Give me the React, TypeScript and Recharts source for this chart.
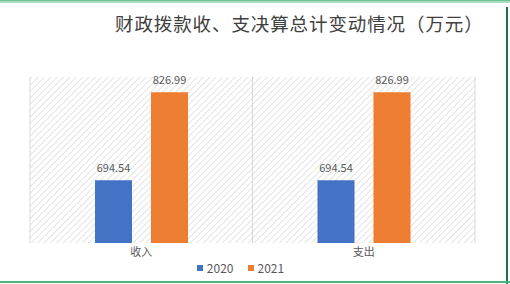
import { Bar, BarChart, CartesianGrid, LabelList, Legend, XAxis, YAxis } from "recharts";

const categories = ["收入", "支出"];
const values2020 = [694.54, 694.54];
const values2021 = [826.99, 826.99];
const yDomain = [600, 850];

const data = categories.map((name, i) => ({
  name,
  y2020: values2020[i],
  y2021: values2021[i],
}));

const BLUE = "#4472c4";
const ORANGE = "#ed7d31";
const TEXT = "#595959";
const FONT = '"Noto Sans CJK SC", "Noto Sans", sans-serif';

function LegendContent({ payload }: any) {
  return (
    <div
      style={{
        height: 16,
        lineHeight: "16px",
        display: "flex",
        justifyContent: "center",
        gap: 14,
        paddingRight: 24,
        fontSize: 12,
        color: TEXT,
        fontFamily: FONT,
      }}
    >
      {(payload || []).map((p: any) => (
        <span key={p.value} style={{ display: "flex", alignItems: "center", gap: 4 }}>
          <span style={{ width: 6, height: 6, background: p.color, display: "inline-block" }} />
          {p.value}
        </span>
      ))}
    </div>
  );
}

export default function App() {
  return (
    <div
      style={{
        position: "fixed",
        left: 0,
        top: 0,
        width: 510,
        height: 284,
        background: "#fff",
        fontFamily: FONT,
        overflow: "hidden",
      }}
    >
      {/* spreadsheet frame */}
      <div style={{ position: "absolute", left: 0, top: 0, width: 510, height: 3, background: "#a8dcbf" }} />
      <div style={{ position: "absolute", left: 0, top: 0, width: 510, height: 1, background: "#6cc394" }} />
      <div style={{ position: "absolute", left: 506, top: 7, width: 2, height: 277, background: "#217346" }} />
      <div style={{ position: "absolute", left: 0, top: 281, width: 510, height: 2, background: "#4cb77c" }} />

      <div
        style={{
          position: "absolute",
          left: 115,
          top: 10,
          fontSize: 18.5,
          color: "#404040",
          whiteSpace: "nowrap",
          letterSpacing: 0.9,
        }}
      >
        财政拨款收、支决算总计变动情况（万元）
      </div>

      <BarChart
        width={510}
        height={284}
        data={data}
        margin={{ top: 77, right: 35, bottom: 8, left: 30 }}
        barSize={37}
        barGap={19}
        style={{ position: "absolute", left: 0, top: 0 }}
      >
        <defs>
          <pattern id="hatch" patternUnits="userSpaceOnUse" width="4.5" height="4.5" patternTransform="rotate(45)">
            <rect width="4.5" height="4.5" fill="#ffffff" />
            <line x1="0" y1="0" x2="0" y2="4.5" stroke="#d9d9d9" strokeWidth="1.4" />
          </pattern>
        </defs>
        <CartesianGrid
          horizontal={false}
          fill="url(#hatch)"
          stroke="#d9d9d9"
          verticalCoordinatesGenerator={({ offset }: any) => [
            offset.left,
            offset.left + offset.width / 2,
            offset.left + offset.width,
          ]}
        />
        <XAxis
          dataKey="name"
          height={17}
          axisLine={false}
          tickLine={false}
          tickSize={0}
          tickMargin={5}
          tick={{ fill: TEXT, fontSize: 11, fontFamily: FONT }}
        />
        <YAxis hide domain={yDomain} allowDataOverflow />
        <Legend verticalAlign="bottom" align="center" content={<LegendContent />} />
        <Bar dataKey="y2020" name="2020" fill={BLUE} isAnimationActive={false}>
          <LabelList dataKey="y2020" position="top" offset={8} fill={TEXT} fontSize={11} fontFamily={FONT} />
        </Bar>
        <Bar dataKey="y2021" name="2021" fill={ORANGE} isAnimationActive={false}>
          <LabelList dataKey="y2021" position="top" offset={8} fill={TEXT} fontSize={11} fontFamily={FONT} />
        </Bar>
      </BarChart>
    </div>
  );
}
